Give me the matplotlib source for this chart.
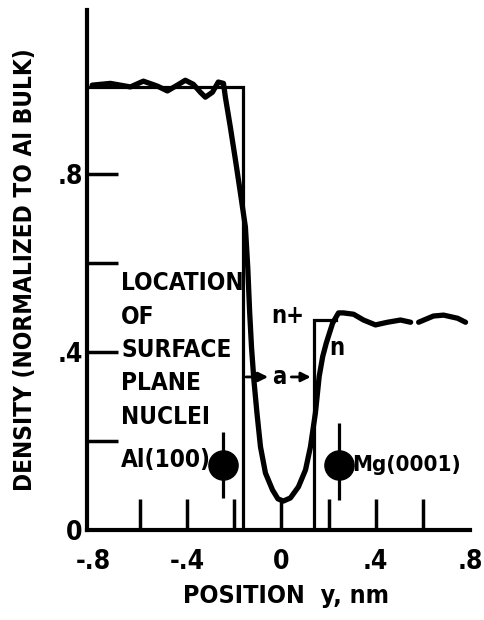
import numpy as np
import matplotlib
matplotlib.use('Agg')
import matplotlib.pyplot as plt
import matplotlib.font_manager as fm

# smooth density profile n(y) (NaN = gap in the trace)
curve_x = [-0.803, -0.726, -0.641, -0.586, -0.527, -0.484, -0.442, -0.408, -0.374,
           -0.344, -0.323, -0.293, -0.268, -0.246, -0.238, -0.217, -0.195, -0.174,
           -0.153, -0.143, -0.135, -0.127, -0.117, -0.104, -0.089, -0.068, -0.038,
           -0.015, 0.008, 0.038, 0.072, 0.102, 0.123, 0.144, 0.160, 0.175, 0.190,
           0.217, 0.242, 0.263, 0.306, 0.348,
           0.399, 0.450, 0.505, 0.548, np.nan, 0.582, 0.645, 0.688, 0.747, 0.781]
curve_y = [1.000, 1.004, 0.996, 1.009, 0.998, 0.987, 1.000, 1.011, 1.002,
           0.984, 0.973, 0.984, 1.007, 1.004, 0.973, 0.906, 0.831, 0.757,
           0.681, 0.590, 0.490, 0.410, 0.337, 0.263, 0.187, 0.128, 0.090,
           0.070, 0.065, 0.072, 0.097, 0.135, 0.187, 0.263, 0.345, 0.390, 0.420,
           0.465, 0.488, 0.488, 0.485, 0.472,
           0.461, 0.467, 0.472, 0.467, np.nan, 0.467, 0.481, 0.483, 0.476, 0.467]

# step profile n+(y), right plateau only drawn until it meets the curve
step_x = [-0.825, -0.162, -0.162, 0.136, 0.136, 0.23]
step_y = [0.996, 0.996, 0.0, 0.0, 0.472, 0.472]

# surface plane nuclei
nuc_x = [-0.25, 0.243]
nuc_y = [0.146, 0.146]
nuc_lo = [0.072, 0.067]
nuc_hi = [0.22, 0.24]

loc_lines = ['LOCATION', 'OF', 'SURFACE', 'PLANE', 'NUCLEI', 'Al(100)']
loc_y = [0.555, 0.479, 0.404, 0.330, 0.254, 0.157]

xticks = [-0.6, -0.4, -0.2, 0.0, 0.2, 0.4, 0.6]
xtick_labels = ['', '-.4', '', '0', '', '.4', '']
yticks = [0.2, 0.4, 0.6, 0.8]
ytick_labels = ['', '.4', '', '.8']


# the scan uses a narrow, heavy lettering: DejaVu Sans Condensed Bold if installed
def is_bold(w):
    if isinstance(w, str):
        return w in ('bold', 'heavy', 'black', 'extra bold', 'demibold', 'semibold')
    return w >= 600

narrow = [f for f in fm.fontManager.ttflist
          if ('Narrow' in f.name or 'Condensed' in f.name
              or str(f.stretch) in ('condensed', 'semi-condensed', 'extra-condensed'))
          and f.style == 'normal']
narrow.sort(key=lambda f: (not is_bold(f.weight), 'DejaVu' not in f.name,
                           'Sans' not in f.name))
if narrow:
    FONT_FILE = narrow[0].fname
else:
    FONT_FILE = fm.findfont(fm.FontProperties(family='DejaVu Sans', weight='bold'))


def fp(size):
    return fm.FontProperties(fname=FONT_FILE, size=size)


fig = plt.figure(figsize=(4.84, 6.2), dpi=100)
ax = fig.add_axes([0.1798, 0.1452, 0.7913, 0.8387])

ax.plot(step_x, step_y, color='black', lw=2.3, solid_joinstyle='miter')
ax.plot(curve_x, curve_y, color='black', lw=3.8, solid_capstyle='round',
        solid_joinstyle='round')

ax.vlines(nuc_x, nuc_lo, nuc_hi, color='black', lw=2.3)
ax.plot(nuc_x, nuc_y, 'o', color='black', ms=21)

# a: distance between the step edges
ax.annotate('', xy=(-0.045, 0.344), xytext=(-0.162, 0.344),
            arrowprops=dict(arrowstyle='-|>', color='black', lw=2, mutation_scale=14))
ax.annotate('', xy=(0.136, 0.344), xytext=(0.03, 0.344),
            arrowprops=dict(arrowstyle='-|>', color='black', lw=2, mutation_scale=14))
ax.text(-0.008, 0.344, 'a', fontproperties=fp(17), ha='center', va='center')

ax.text(0.026, 0.482, 'n+', fontproperties=fp(17), ha='center', va='center')
ax.text(0.236, 0.41, 'n', fontproperties=fp(17), ha='center', va='center')
ax.text(0.300, 0.146, 'Mg(0001)', fontproperties=fp(16), ha='left', va='center')
for txt, yy in zip(loc_lines, loc_y):
    ax.text(-0.68, yy, txt, fontproperties=fp(17.5), ha='left', va='center')

ax.set_xlim(-0.825, 0.80)
ax.set_ylim(0, 1.169)
for s in ['top', 'right']:
    ax.spines[s].set_visible(False)
for s in ['left', 'bottom']:
    ax.spines[s].set_linewidth(3)

ax.set_xticks(xticks, xtick_labels)
ax.set_xticks([-0.8, 0.8], ['-.8', '.8'], minor=True)
ax.set_yticks(yticks, ytick_labels)
ax.set_yticks([0.0], ['0'], minor=True)
ax.tick_params(which='major', direction='in', length=22, width=2.5)
ax.tick_params(which='minor', length=0)
ax.tick_params(axis='x', which='both', pad=14)
ax.tick_params(axis='y', which='both', pad=3)
for lab in ax.get_xticklabels(which='both') + ax.get_yticklabels(which='both'):
    lab.set_fontproperties(fp(19))

fig.text(25 / 484, 1 - 270 / 620, 'DENSITY (NORMALIZED TO Al BULK)', rotation=90,
         ha='center', va='center', fontproperties=fp(17.5))
fig.text(286 / 484, 1 - 596 / 620, 'POSITION  y, nm', ha='center', va='center',
         fontproperties=fp(18))

fig.savefig('out.png', dpi=100)
